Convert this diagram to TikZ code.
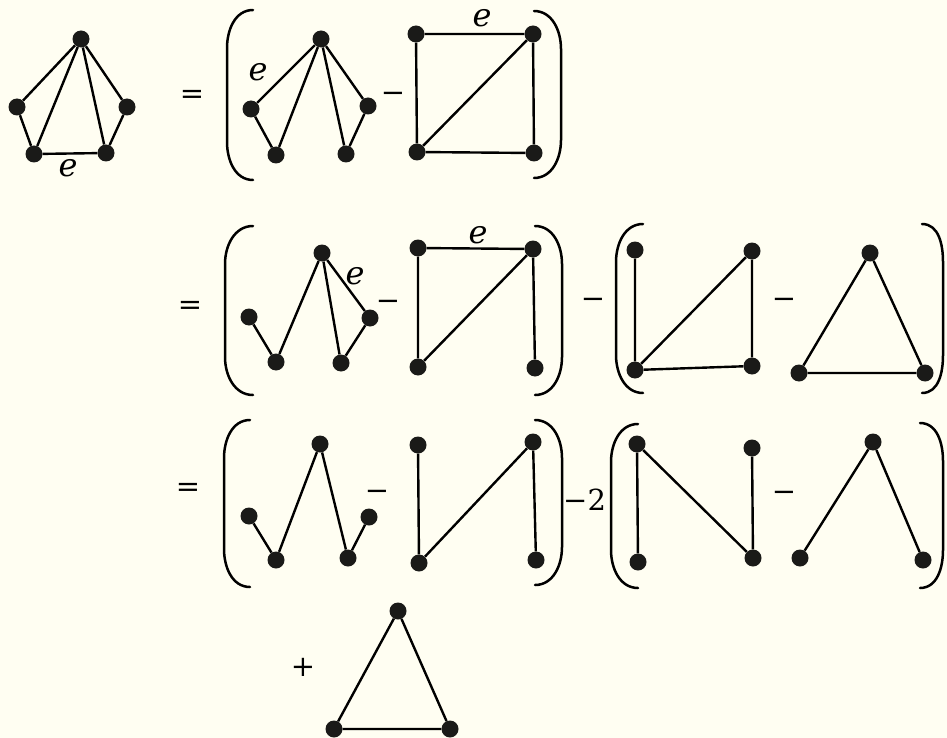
\documentclass[tikz,border=0pt]{standalone}
\usepackage{fontspec}
\newfontfamily\efont{DejaVu Serif}
\definecolor{bgcream}{RGB}{255,254,242}
\definecolor{vtx}{RGB}{26,26,24}
\tikzset{
  vert/.style={circle,fill=vtx,inner sep=0pt,minimum size=17pt},
  edge/.style={line width=2.4pt,draw=black},
  brk/.style={line width=2.5pt,draw=black,line cap=round},
  lab/.style={font=\efont\itshape\fontsize{32}{32}\selectfont,inner sep=0pt},
  sym/.style={font=\efont\fontsize{29}{29}\selectfont,inner sep=0pt}
}
\newcommand\myLP[4]{\draw[brk] (#2,#3) to[out=180,in=90] (#1,#3+38) -- (#1,#4-38) to[out=-90,in=180] (#2,#4);}
\newcommand\myRP[4]{\draw[brk] (#2,#3) to[out=0,in=90] (#1,#3+38) -- (#1,#4-38) to[out=-90,in=0] (#2,#4);}
\newcommand\mminus{\char"2212\relax}
\begin{document}
\begin{tikzpicture}[x=1pt,y=-1pt]
\fill[bgcream] (0,0) rectangle (947,738);
\useasboundingbox (0,0) rectangle (947,738);
% ---------- Row 1 ----------
\node[vert] (a1) at (81,39) {};
\node[vert] (a2) at (17,107) {};
\node[vert] (a3) at (127,107) {};
\node[vert] (a4) at (34,154) {};
\node[vert] (a5) at (106,153) {};
\draw[edge] (a1)--(a2) (a1)--(a4) (a1)--(a5) (a1)--(a3) (a2)--(a4) (a3)--(a5) (a4)--(a5);
\node[lab] (ae) at (68,168) {e};
\node[sym] (eq1) at (192,97) {=};
\myLP{227}{253}{10}{180}
\node[vert] (b1) at (321,39) {};
\node[vert] (b2) at (251,109) {};
\node[vert] (b3) at (276,155) {};
\node[vert] (b4) at (346,154) {};
\node[vert] (b5) at (368,106) {};
\draw[edge] (b1)--(b2) (b1)--(b3) (b1)--(b4) (b1)--(b5) (b2)--(b3) (b5)--(b4);
\node[lab] (be) at (258,72) {e};
\node[sym] (m1) at (393,97) {\mminus};
\node[vert] (c1) at (416,34) {};
\node[vert] (c2) at (533,34) {};
\node[vert] (c3) at (417,152) {};
\node[vert] (c4) at (534,153) {};
\draw[edge] (c1)--(c2) (c1)--(c3) (c3)--(c4) (c2)--(c4) (c3)--(c2);
\node[lab] (ce) at (482,18) {e};
\myRP{561}{534}{11}{178}
% ---------- Row 2 ----------
\node[sym] (eq2) at (190,308) {=};
\myLP{225}{253}{226}{395}
\node[vert] (d1) at (322,253) {};
\node[vert] (d2) at (249,317) {};
\node[vert] (d3) at (276,362) {};
\node[vert] (d4) at (341,363) {};
\node[vert] (d5) at (370,318) {};
\draw[edge] (d2)--(d3) (d3)--(d1) (d1)--(d4) (d4)--(d5) (d1)--(d5);
\node[lab] (de) at (355,276) {e};
\node[sym] (m2) at (388,305) {\mminus};
\node[vert] (f1) at (418,248) {};
\node[vert] (f2) at (533,249) {};
\node[vert] (f3) at (418,367) {};
\node[vert] (f4) at (535,368) {};
\draw[edge] (f1)--(f2) (f1)--(f3) (f3)--(f2) (f2)--(f4);
\node[lab] (fe) at (478,235) {e};
\myRP{562}{535}{226}{395}
\node[sym] (m3) at (593,303) {\mminus};
\myLP{616}{643}{224}{393}
\node[vert] (g1) at (635,250) {};
\node[vert] (g2) at (752,251) {};
\node[vert] (g3) at (635,370) {};
\node[vert] (g4) at (752,366) {};
\draw[edge] (g1)--(g3) (g3)--(g2) (g2)--(g4) (g3)--(g4);
\node[sym] (m4) at (784,303) {\mminus};
\node[vert] (h1) at (870,253) {};
\node[vert] (h2) at (799,373) {};
\node[vert] (h3) at (925,373) {};
\draw[edge] (h1)--(h2) (h2)--(h3) (h3)--(h1);
\myRP{943}{922}{224}{393}
% ---------- Row 3 ----------
\node[sym] (eq3) at (188,490) {=};
\myLP{224}{250}{420}{587}
\node[vert] (i1) at (320,444) {};
\node[vert] (i2) at (249,516) {};
\node[vert] (i3) at (276,560) {};
\node[vert] (i4) at (348,558) {};
\node[vert] (i5) at (369,517) {};
\draw[edge] (i2)--(i3) (i3)--(i1) (i1)--(i4) (i4)--(i5);
\node[sym] (m5) at (377,495) {\mminus};
\node[vert] (j1) at (418,445) {};
\node[vert] (j2) at (533,442) {};
\node[vert] (j3) at (419,563) {};
\node[vert] (j4) at (536,560) {};
\draw[edge] (j1)--(j3) (j3)--(j2) (j2)--(j4);
\myRP{562}{535}{420}{585}
\node[sym,anchor=west] (m6) at (563,500) {\mminus{}2};
\myLP{611}{638}{424}{588}
\node[vert] (k1) at (637,444) {};
\node[vert] (k2) at (752,448) {};
\node[vert] (k3) at (638,562) {};
\node[vert] (k4) at (753,558) {};
\draw[edge] (k1)--(k3) (k1)--(k4) (k2)--(k4);
\node[sym] (m7) at (784,496) {\mminus};
\node[vert] (l1) at (873,442) {};
\node[vert] (l2) at (800,558) {};
\node[vert] (l3) at (923,560) {};
\draw[edge] (l2)--(l1) (l1)--(l3);
\myRP{943}{920}{423}{588}
% ---------- Row 4 ----------
\node[sym] (p1) at (303,667) {+};
\node[vert] (q1) at (398,611) {};
\node[vert] (q2) at (334,729) {};
\node[vert] (q3) at (450,729) {};
\draw[edge] (q1)--(q2) (q2)--(q3) (q3)--(q1);
\end{tikzpicture}
\end{document}
